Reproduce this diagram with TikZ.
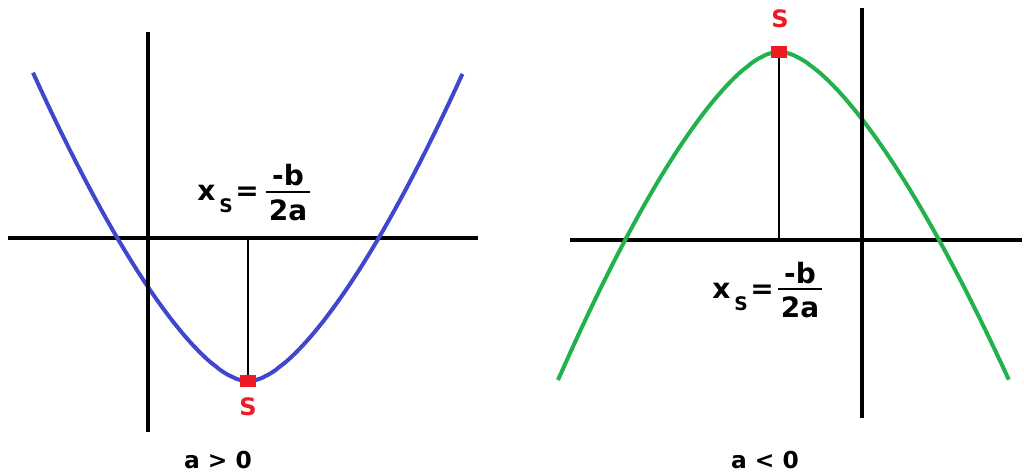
\documentclass[tikz,border=0pt]{standalone}
\usepackage{fontspec}
\setmainfont{DejaVu Sans}
\definecolor{pblue}{RGB}{63,72,204}
\definecolor{pgreen}{RGB}{34,177,76}
\definecolor{pred}{RGB}{237,28,36}
\tikzset{
  axis/.style={line width=3pt, black},
  guide/.style={line width=1.1pt, black},
  curveb/.style={line width=3pt, pblue},
  curveg/.style={line width=3pt, pgreen},
  vtx/.style={fill=pred, draw=none, minimum width=12pt, minimum height=9.5pt, inner sep=0},
  big/.style={inner sep=0, anchor=base, font=\fontsize{21}{21}\selectfont\bfseries},
  sub/.style={inner sep=0, anchor=base west, font=\fontsize{14}{14}\selectfont\bfseries},
  slab/.style={inner sep=0, anchor=base, text=pred, font=\fontsize{18}{18}\selectfont\bfseries},
  caption/.style={inner sep=0, anchor=base, font=\fontsize{17.5}{17.5}\selectfont\bfseries}
}
\begin{document}
\begin{tikzpicture}[x=0.75pt,y=-0.75pt]
\useasboundingbox (0,0) rectangle (1024,475);
% ---------- left graph ----------
\coordinate (lxa) at (8,238);
\coordinate (lxb) at (478,238);
\coordinate (lya) at (148,32);
\coordinate (lyb) at (148,432);
\coordinate (lv) at (248,381);
\coordinate (lf) at (248,238);
\draw[axis] (lxa) -- (lxb);
\draw[curveb] plot[domain=-2.15:2.145, samples=160]
  ({248+100*\x},{381-100*(pow(\x*\x+0.04,0.75)-0.0894)});
\draw[axis] (lya) -- (lyb);
\draw[guide] (lf) -- (lv);
\node[vtx] (lsq) at (lv) {};
\node[slab] (lS) at (248,415) {S};
\node[big, anchor=base west] (lx) at (197,200) {x};
\node[sub] (lxs) at (219,212) {S};
\node[big, anchor=base west] (leq) at (235,200) {=};
\coordinate (lba) at (266,192);
\coordinate (lbb) at (310,192);
\draw[line width=1.5pt] (lba) -- (lbb);
\node[big] (lnum) at (288,185) {-b};
\node[big] (lden) at (288,220) {2a};
\node[caption] (lcap) at (218,468) {a > 0};
% ---------- right graph ----------
\coordinate (rxa) at (570,240);
\coordinate (rxb) at (1022,240);
\coordinate (rya) at (862,8);
\coordinate (ryb) at (862,418);
\coordinate (rv) at (779,52);
\coordinate (rf) at (779,240);
\draw[axis] (rxa) -- (rxb);
\draw[curveg] plot[domain=-2.21:2.3, samples=160]
  ({779+100*\x},{52+(\x<0?102:96)*(pow(\x*\x+0.04,0.75)-0.0894)});
\draw[axis] (rya) -- (ryb);
\draw[guide] (rv) -- (rf);
\node[vtx] (rsq) at (rv) {};
\node[slab] (rS) at (780,27) {S};
\node[big, anchor=base west] (rx) at (712,298) {x};
\node[sub] (rxs) at (734,310) {S};
\node[big, anchor=base west] (req) at (750,298) {=};
\coordinate (rba) at (778,289);
\coordinate (rbb) at (822,289);
\draw[line width=1.5pt] (rba) -- (rbb);
\node[big] (rnum) at (800,283) {-b};
\node[big] (rden) at (800,317) {2a};
\node[caption] (rcap) at (765,468) {a < 0};
\end{tikzpicture}
\end{document}
